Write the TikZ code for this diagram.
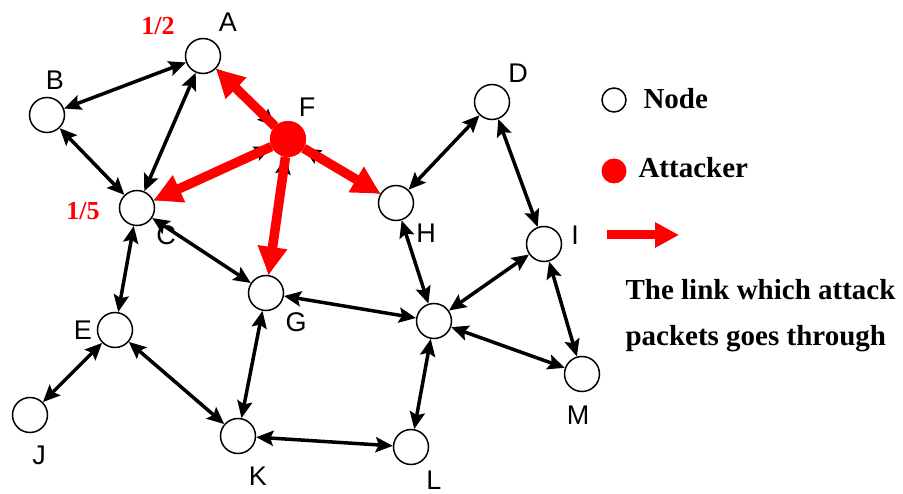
\documentclass[tikz,border=0pt]{standalone}
\usepackage{fontspec}
\setmainfont{Liberation Serif}
\newfontfamily\labelfont{Liberation Sans}
\usetikzlibrary{arrows.meta}
\definecolor{atk}{RGB}{255,0,0}

\begin{document}
\begin{tikzpicture}[x=1pt,y=-1pt,
  peer/.style={circle,draw=black,line width=1.5pt,minimum size=35pt,inner sep=0pt},
  attacker/.style={circle,fill=atk,minimum size=36pt,inner sep=0pt},
  link/.style={line width=3.5pt,
    {Stealth[length=17pt,width=15pt,inset=3pt]}-{Stealth[length=17pt,width=15pt,inset=3pt]}},
  attack/.style={line width=9.5pt,draw=atk,-{Triangle[length=28pt,width=28pt]}},
  tag/.style={font=\labelfont\fontsize{27}{30}\selectfont},
  ratio/.style={text=atk,font=\bfseries\fontsize{26}{28}\selectfont},
  legend/.style={anchor=base west,font=\bfseries\fontsize{29}{32}\selectfont}]

\useasboundingbox (0,0) rectangle (903,494);

% network nodes
\node[peer] (A) at (203,56) {};
\node[peer] (B) at (47,115) {};
\node[peer] (C) at (137,208) {};
\node[peer] (D) at (492,102) {};
\node[peer] (E) at (115,330) {};
\node[attacker] (F) at (288,139) {};
\node[peer] (G) at (266,293) {};
\node[peer] (H) at (396,203) {};
\node[peer] (I) at (544,244) {};
\node[peer] (J) at (30,415) {};
\node[peer] (K) at (238,436) {};
\node[peer] (L) at (411,447) {};
\node[peer] (M) at (582,374) {};
\node[peer] (X) at (434,321) {};

% node names
\node[tag] (tA) at (228,22) {A};
\node[tag] (tB) at (55,80) {B};
\node[tag] (tC) at (166,235) {C};
\node[tag] (tD) at (518,73) {D};
\node[tag] (tE) at (83,330) {E};
\node[tag] (tF) at (307,107) {F};
\node[tag] (tG) at (296,322) {G};
\node[tag] (tH) at (426,233) {H};
\node[tag] (tI) at (575,235) {I};
\node[tag] (tJ) at (39,455) {J};
\node[tag] (tK) at (258,476) {K};
\node[tag] (tL) at (434,480) {L};
\node[tag] (tM) at (578,415) {M};

% probabilities
\node[ratio] (pA) at (158,26) {1/2};
\node[ratio] (pC) at (83,211) {1/5};

% two-way links
\draw[link] (A) -- (B);
\draw[link] (A) -- (C);
\draw[link] (B) -- (C);
\draw[link] (C) -- (E);
\draw[link] (C) -- (G);
\draw[link] (E) -- (J);
\draw[link] (E) -- (K);
\draw[link] (G) -- (K);
\draw[link] (G) -- (X);
\draw[link] (K) -- (L);
\draw[link] (L) -- (X);
\draw[link] (X) -- (M);
\draw[link] (X) -- (I);
\draw[link] (X) -- (H);
\draw[link] (H) -- (D);
\draw[link] (D) -- (I);
\draw[link] (I) -- (M);
\draw[link] (F) -- (A);
\draw[link] (F) -- (C);
\draw[link] (F) -- (G);
\draw[link] (F) -- (H);

% attack traffic leaving the attacker
\draw[attack] (F) -- (A);
\draw[attack] (F) -- (C);
\draw[attack] (F) -- (G);
\draw[attack] (F) -- (H);
\node[attacker] (F2) at (F) {};

% legend
\node[circle,draw=black,line width=1.5pt,minimum size=24pt,inner sep=0pt] (kn) at (614,100) {};
\node[legend] (kt) at (640,109) {Node};
\node[circle,fill=atk,minimum size=25pt,inner sep=0pt] (ka) at (614,171) {};
\node[legend] (kat) at (635,178) {Attacker};
\coordinate (k1) at (607,235);
\coordinate (k2) at (679,235);
\draw[line width=9pt,draw=atk,-{Triangle[length=24pt,width=24pt]}] (k1) -- (k2);
\node[legend] (kl1) at (622,300) {The link which attack};
\node[legend] (kl2) at (622,346) {packets goes through};
\end{tikzpicture}
\end{document}
